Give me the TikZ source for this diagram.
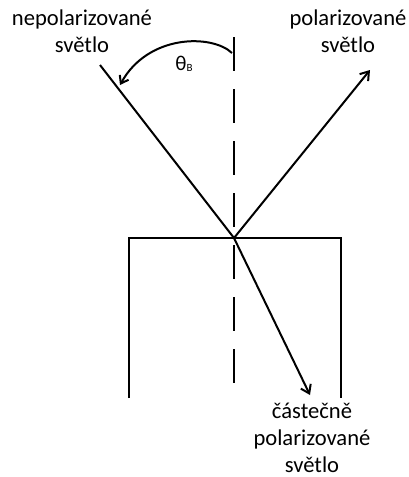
\documentclass[tikz,border=0pt]{standalone}
\usepackage{fontspec}
\setmainfont{Carlito}
\usetikzlibrary{arrows.meta}
\begin{document}
\begin{tikzpicture}[x=1pt,y=-1pt,
  ray/.style={line width=2pt},
  arr/.style={ray,-{Straight Barb[length=8pt,width=11pt,line width=2pt]}},
  lbl/.style={align=center,inner sep=0pt,font=\fontsize{22.6}{27}\selectfont}]
\useasboundingbox (0,0) rectangle (409,477);
\coordinate (O) at (234,238);
\coordinate (Ntop) at (234,37);
\coordinate (Nbot) at (234,384);
\coordinate (Sl) at (129,238);
\coordinate (Sr) at (341,238);
\coordinate (Bl) at (129,398);
\coordinate (Br) at (341,398);
\coordinate (In) at (100,65);
\coordinate (Re) at (370,70);
\coordinate (Tr) at (310,395);
\coordinate (A0) at (232,53);
\coordinate (A1) at (120,85);
% glass block
\draw[ray] (Bl) -- (Sl) -- (Sr) -- (Br);
% normal
\draw[ray,dash pattern=on 34pt off 18pt] (Ntop) -- (Nbot);
% rays
\draw[ray] (In) -- (O);
\draw[arr] (O) -- (Re);
\draw[arr] (O) -- (Tr);
% angle
\draw[ray,-{Straight Barb[length=7pt,width=10pt,line width=2pt]}] (A0) .. controls (212,34) and (148,34) .. (A1);
\node[inner sep=0pt] (th) at (184,64) {\fontsize{21}{24}\selectfont θ\raisebox{-0.15ex}{\fontsize{11}{12}\selectfont B}};
% labels
\node[lbl] (L1) at (82,31) {nepolarizované\\světlo};
\node[lbl] (L2) at (348,31) {polarizované\\světlo};
\node[lbl] (L3) at (312,438) {částečně\\polarizované\\světlo};
\end{tikzpicture}
\end{document}
